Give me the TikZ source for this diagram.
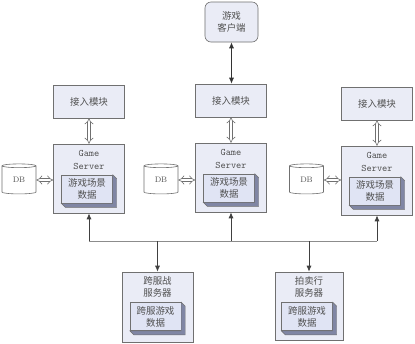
\documentclass[tikz,border=0pt]{standalone}
\usepackage{fontspec}
\usepackage{xcolor}
\usetikzlibrary{arrows.meta,shapes.geometric,calc}
\newfontfamily\cjk{Noto Sans CJK SC}
\definecolor{boxfill}{RGB}{234,236,246}
\definecolor{boxline}{RGB}{112,112,112}
\definecolor{facefill}{RGB}{224,228,244}
\definecolor{sideshade}{RGB}{128,134,164}
\definecolor{textgray}{RGB}{80,80,80}
\definecolor{busgray}{RGB}{140,140,140}

\tikzset{
  modbox/.style={draw=boxline, fill=boxfill, line width=0.6pt, inner sep=0pt, align=center,
    text=textgray, font=\cjk\fontsize{9.5}{12}\selectfont},
  facebox/.style={draw=boxline, fill=facefill, line width=0.5pt, inner sep=0pt, align=center,
    minimum width=51bp, minimum height=28bp, text=textgray, font=\cjk\fontsize{9.5}{12}\selectfont},
  cjktext/.style={inner sep=0pt, align=center, text=textgray, font=\cjk\fontsize{9.5}{12}\selectfont},
  gstext/.style={inner sep=0pt, align=center, text=textgray, font=\ttfamily\fontsize{10}{12.5}\selectfont},
  dbcyl/.style={shape=cylinder, shape border rotate=90, aspect=0.3, draw=boxline, fill=white,
    line width=0.6pt, minimum width=34bp, minimum height=30bp, inner sep=0pt,
    text=textgray, font=\fontsize{8}{9}\selectfont},
  hollow/.style={draw=boxline, double=white, double distance=2.6pt, line width=0.6pt,
    {Implies}-{Implies}},
  biarrow/.style={draw=black!80, line width=0.8pt, {Latex[length=6bp,width=5bp]}-{Latex[length=6bp,width=5bp]}},
  uparrow/.style={draw=black!75, line width=0.8pt, -{Latex[length=6bp,width=5bp]}},
  busline/.style={draw=busgray, line width=1pt}
}

\begin{document}
\begin{tikzpicture}[x=1bp, y=-1bp]

% 0. CANVAS
\fill[white] (0,0) rectangle (415,344);
\useasboundingbox (0,0) rectangle (415,344);

% 1. GAME CLIENT
\node[modbox, rounded corners=6bp, minimum width=53bp, minimum height=40bp] (client) at (231.5,22) {游戏\\客户端};

% 2. THREE SERVER COLUMNS (access module, game server, DB)
\foreach \i/\x/\dy/\dbx in {1/89/0/19, 2/231/-1/161, 3/377/2/306.5} {
    \node[modbox, minimum width=71bp, minimum height=33bp] (acc\i) at (\x,101.5+\dy) {接入模块};
    \node[modbox, minimum width=71bp, minimum height=69bp] (gs\i) at (\x,178.5+\dy) {};
    \node[gstext] (gst\i) at (\x,160+\dy) {Game\\Server};
    \node[facebox] (scene\i) at (\x-2,189+\dy) {游戏场景\\数据};
    % bevel of the scene data box
    \filldraw[fill=sideshade, draw=boxline, line width=0.5pt] (scene\i.north east) -- ($(scene\i.north east)+(4,4)$)
        -- ($(scene\i.south east)+(4,4)$) -- ($(scene\i.south west)+(4,4)$) -- (scene\i.south west)
        -- (scene\i.south east) -- cycle;
    \node[dbcyl] (db\i) at (\dbx,180) {DB};
    \draw[hollow] (acc\i.south) -- (gs\i.north);
    \draw[hollow] (db\i.east) -- (db\i.east -| gs\i.west);
}

\draw[biarrow] (client.south) -- (client.south |- acc2.north);

% 3. CROSS-SERVER BATTLE & AUCTION SERVERS
\node[modbox, minimum width=71bp, minimum height=70bp] (war) at (157.5,307) {};
\node[cjktext] (wart) at (157.5,287) {跨服战\\服务器};
\node[facebox] (warscene) at (155.5,316.5) {跨服游戏\\数据};

\node[modbox, minimum width=68bp, minimum height=68bp] (auction) at (309,306) {};
\node[cjktext] (auctiont) at (309,287) {拍卖行\\服务器};
\node[facebox] (auctionscene) at (307,316.5) {跨服游戏\\数据};

\foreach \n in {warscene, auctionscene} {
    \filldraw[fill=sideshade, draw=boxline, line width=0.5pt] (\n.north east) -- ($(\n.north east)+(4,4)$)
        -- ($(\n.south east)+(4,4)$) -- ($(\n.south west)+(4,4)$) -- (\n.south west)
        -- (\n.south east) -- cycle;
}

% 4. BUS
\coordinate (bus) at (0,241);
\draw[busline] (gs1.south |- bus) -- (gs3.south |- bus);
\foreach \n in {gs1, gs2, gs3} {
    \draw[uparrow] (\n.south |- bus) -- (\n.south);
}
\foreach \n in {war, auction} {
    \draw[uparrow] (\n.north |- bus) -- (\n.north);
}

\end{tikzpicture}
\end{document}
